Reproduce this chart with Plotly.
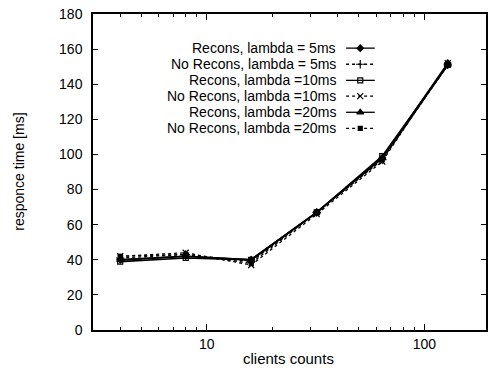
import math
import plotly.graph_objects as go

clients = [4, 8, 16, 32, 64, 128]
series_names = [
    "Recons, lambda = 5ms",
    "No Recons, lambda = 5ms",
    "Recons, lambda =10ms",
    "No Recons, lambda =10ms",
    "Recons, lambda =20ms",
    "No Recons, lambda =20ms",
]
recons_5 = [40, 42, 40, 67, 98, 152]
norecons_5 = [41, 43, 39, 67, 97, 151]
recons_10 = [39, 41, 40, 67, 99, 151]
norecons_10 = [42, 44, 37, 66, 96, 152]
recons_20 = [40, 42, 40, 67, 98, 151]
norecons_20 = [42, 43, 38, 67, 97, 151]
series_values = [recons_5, norecons_5, recons_10, norecons_10, recons_20, norecons_20]

dashes = ["solid", "dot", "solid", "dot", "solid", "dot"]
symbols = ["diamond", "cross-thin", "square-open", "x-thin", "triangle-up", "square"]
sizes = [5, 6, 5, 6, 6, 4]

FONT = "Liberation Sans, Arial, sans-serif"

fig = go.Figure()
for name, vals, d, s, sz in zip(series_names, series_values, dashes, symbols, sizes):
    fig.add_trace(go.Scatter(
        x=clients, y=vals, mode="lines+markers", name=name,
        line=dict(color="black", width=1.7 if d == "solid" else 1.3, dash=d),
        marker=dict(symbol=s, size=sz, color="black",
                    line=dict(color="black", width=1.2)),
        showlegend=False,
    ))

# custom legend (text right-aligned, sample on the right, gnuplot style)
leg_y = [0.892, 0.841, 0.790, 0.740, 0.689, 0.638]
for name, d, s, sz, ly in zip(series_names, dashes, symbols, sizes, leg_y):
    fig.add_annotation(x=0.624, y=ly, xref="paper", yref="paper", text=name,
                       showarrow=False, xanchor="right", yanchor="middle",
                       font=dict(family=FONT, size=14, color="black"))
    fig.add_trace(go.Scatter(
        x=[0.644, 0.717], y=[ly, ly], xaxis="x2", yaxis="y2", mode="lines",
        line=dict(color="black", width=1.3, dash=d), showlegend=False, hoverinfo="skip"))
    fig.add_trace(go.Scatter(
        x=[0.68], y=[ly], xaxis="x2", yaxis="y2", mode="markers",
        marker=dict(symbol=s, size=sz, color="black", line=dict(color="black", width=1.2)),
        showlegend=False, hoverinfo="skip"))

minor_vals = [v * m for m in (1, 10, 100) for v in range(2, 10)]
fig.update_layout(
    width=489, height=370,
    margin=dict(l=93, r=1, t=14, b=40),
    paper_bgcolor="white", plot_bgcolor="white",
    font=dict(family=FONT, size=14, color="black"),
    xaxis=dict(
        type="log", range=[math.log10(3), 2.283],
        tickvals=[10, 100], ticktext=["10", "100"],
        ticks="inside", ticklen=6, tickwidth=1, tickcolor="black",
        minor=dict(ticks="inside", ticklen=3, tickvals=minor_vals, tickcolor="black"),
        showline=True, linecolor="black", linewidth=1.5, mirror="allticks",
        showgrid=False, zeroline=False,
    ),
    yaxis=dict(
        range=[0, 180], dtick=20,
        ticks="inside", ticklen=5, tickwidth=1, tickcolor="black",
        showline=True, linecolor="black", linewidth=1.5, mirror="allticks",
        showgrid=False, zeroline=False, ticklabelstandoff=6,
    ),
    xaxis2=dict(overlaying="x", range=[0, 1], visible=False, anchor="y2"),
    yaxis2=dict(overlaying="y", range=[0, 1], visible=False, anchor="x2"),
    annotations=list(fig.layout.annotations) + [
        dict(x=0.497, y=-0.09, xref="paper", yref="paper", text="clients counts",
             showarrow=False, xanchor="center", yanchor="middle",
             font=dict(family=FONT, size=15, color="black")),
        dict(x=-0.189, y=0.5, xref="paper", yref="paper", text="responce time [ms]",
             showarrow=False, textangle=-90, xanchor="center", yanchor="middle",
             font=dict(family=FONT, size=14, color="black")),
    ],
)

fig.write_html("out.html")
